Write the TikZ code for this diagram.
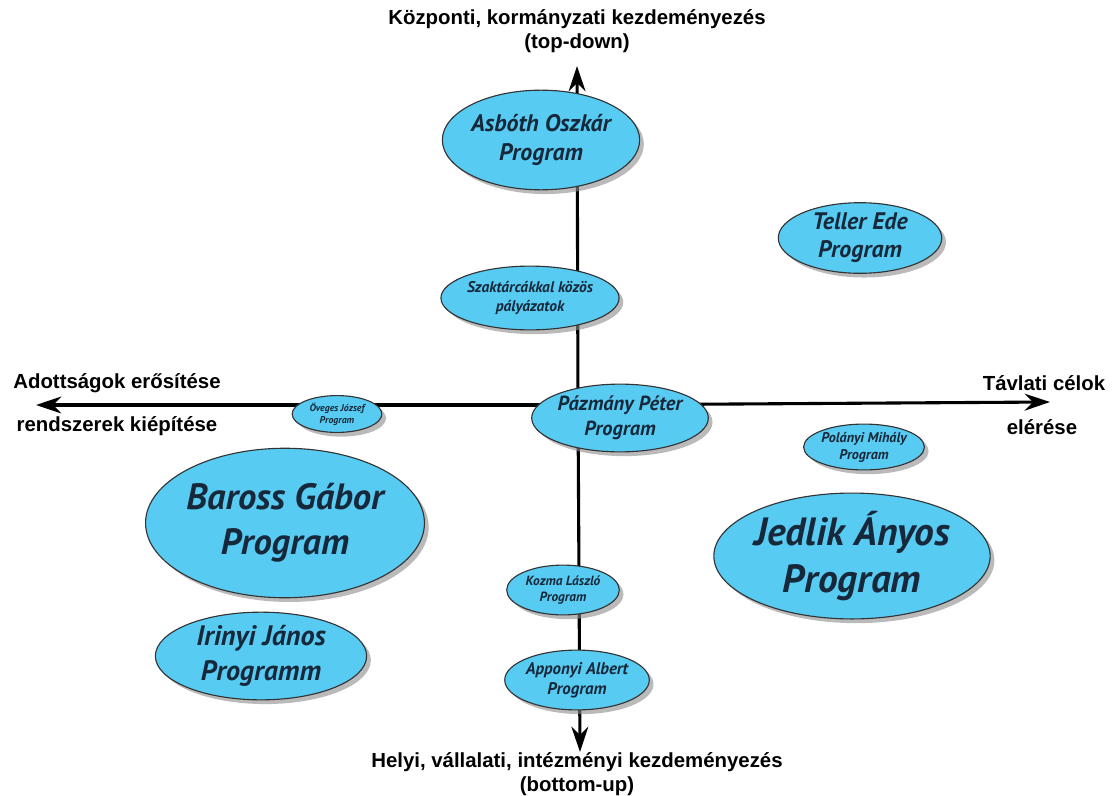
\documentclass[tikz,border=0pt]{standalone}
\usepackage{fontspec}
\setmainfont{Liberation Sans}
\newfontfamily\progfont{PT Sans}
\usetikzlibrary{shapes.geometric,shadows,arrows.meta}
\definecolor{progblue}{HTML}{58CBF3}
\definecolor{progtext}{HTML}{16283A}
\tikzset{
  prog/.style={ellipse,draw=black!80,line width=0.8pt,fill=progblue,inner sep=0pt,
    align=center,text=progtext,
    drop shadow={shadow xshift=3pt,shadow yshift=-3pt,fill=black!45,opacity=0.6}},
  esize/.style 2 args={minimum width=#1*0.7087pt,minimum height=#2*0.7087pt},
  pfont/.style 2 args={font=\progfont\bfseries\itshape\fontsize{#1}{#2}\selectfont},
  axis/.style={line width=2.2pt,-{Stealth[length=18pt,width=12pt]},black},
  axislabel/.style={font=\bfseries\fontsize{14.5}{17}\selectfont,align=center}
}
\begin{document}
\begin{tikzpicture}[x=0.025cm,y=-0.025cm]
\useasboundingbox (0,0) rectangle (1112,796);
% tengelyek
\coordinate (kozep) at (578,405);
\coordinate (fent) at (577,66);
\coordinate (lent) at (580,752);
\coordinate (bal) at (36,405);
\coordinate (jobb) at (1050,402);
\draw[axis] (kozep) -- (fent);
\draw[axis] (kozep) -- (lent);
\draw[axis] (kozep) -- (bal);
\draw[axis] (kozep) -- (jobb);
% tengelyfeliratok
\node[axislabel] (topdown) at (577,31) {Központi, kormányzati kezdeményezés\\(top-down)};
\node[axislabel] (bottomup) at (577,774) {Helyi, vállalati, intézményi kezdeményezés\\(bottom-up)};
\node[axislabel] (adott) at (117,383) {Adottságok erősítése};
\node[axislabel] (rendsz) at (117,426) {rendszerek kiépítése};
\node[axislabel] (tavlati) at (1044,383) {Távlati célok};
\node[axislabel] (elerese) at (1042,427) {elérése};
% programok
\node[prog,esize={193}{100},pfont={17}{21}] (asboth) at (541,140) {Asbóth Oszkár\\Program};
\node[prog,esize={164}{65},pfont={17}{20}] (teller) at (860,238) {Teller Ede\\Program};
\node[prog,esize={164}{64},pfont={11}{13}] (szaktarca) at (530,298) {Szaktárcákkal közös\\pályázatok};
\node[prog,esize={90}{37},pfont={7}{8.5}] (oveges) at (337,414) {Öveges József\\Program};
\node[prog,esize={175}{68},pfont={14.5}{17.5}] (pazmany) at (620,418) {Pázmány Péter\\Program};
\node[prog,esize={98}{46},pfont={10}{12}] (polanyi) at (864,447) {Polányi Mihály\\Program};
\node[prog,esize={270}{150},pfont={26}{32}] (baross) at (285,523) {Baross Gábor\\Program};
\node[prog,esize={240}{112},pfont={28}{33}] (jedlik) at (852,556) {Jedlik Ányos\\Program};
\node[prog,esize={113}{50},pfont={9.5}{11.5}] (kozma) at (563,590) {Kozma László\\Program};
\node[prog,esize={212}{88},pfont={20}{25}] (irinyi) at (261,656) {Irinyi János\\Programm};
\node[prog,esize={125}{60},pfont={12}{14}] (apponyi) at (577,680) {Apponyi Albert\\Program};
\end{tikzpicture}
\end{document}
